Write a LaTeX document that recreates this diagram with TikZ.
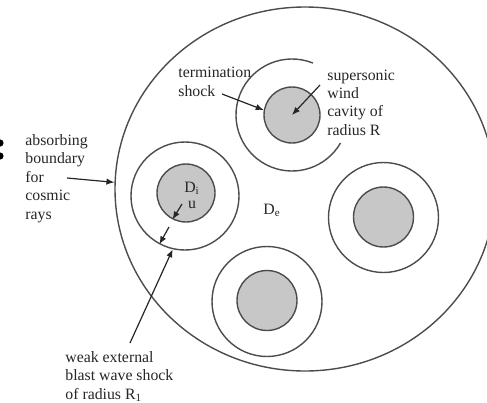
\documentclass[tikz,border=0pt]{standalone}
\usepackage{fontspec}
\setmainfont{Liberation Serif}
\usetikzlibrary{arrows.meta,shapes.geometric}

\begin{document}
\begin{tikzpicture}[x=0.5pt,y=0.5pt,
  cavity/.style={circle,draw=black!70,fill=black!22,line width=0.7pt,inner sep=0pt,minimum size=#1},
  blast/.style={circle,draw=black!70,line width=0.7pt,inner sep=0pt,minimum size=#1},
  lbl/.style={font=\fontsize{7.9}{9.2}\selectfont,text=black!85,inner sep=0pt,align=left,anchor=west},
  arr/.style={-{Latex[length=4pt,width=3.2pt]},draw=black!85,line width=0.6pt}]

\useasboundingbox (0,0) rectangle (487,-402);

% Left edge marks
\fill[black] (0,-143) circle[radius=1.8pt];
\fill[black] (0,-156) circle[radius=1.8pt];

% Absorbing boundary
\node[ellipse,draw=black!70,line width=0.7pt,inner sep=0pt,minimum width=190pt,minimum height=182pt] (bound) at (305,-189) {};

% Wind cavity with termination shock
\node[cavity=28pt] (cav1) at (292,-115) {};
\draw[black!70,line width=0.7pt] ([shift={(68:28pt)}]cav1.center) arc[start angle=68,end angle=330,radius=28pt];

% Cavity D_i with blast wave
\node[blast=54pt] (blast2) at (185,-196) {};
\node[cavity=29pt] (cav2) at (186,-193) {};

% Right cavity
\node[blast=55pt] (blast3) at (383.5,-217.5) {};
\node[cavity=30pt] (cav3) at (383.5,-217) {};

% Bottom cavity
\node[blast=55pt] (blast4) at (267,-301.5) {};
\node[cavity=30pt] (cav4) at (267,-300.5) {};

% Labels
\node[lbl] (absorb) at (25,-178.5) {absorbing\\boundary\\for\\cosmic\\rays};
\node[lbl] (weak) at (65,-376.5) {weak external\\blast wave shock\\of radius R\textsubscript{1}};
\node[lbl] (super) at (327,-102.5) {supersonic\\wind\\cavity of\\radius R};
\node[lbl] (term) at (178,-82) {termination\\shock};
\node[lbl,anchor=center] (di) at (192,-188) {D\textsubscript{i}};
\node[lbl,anchor=center] (uu) at (192,-205) {u};
\node[lbl,anchor=center] (de) at (272,-210) {D\textsubscript{e}};

% Arrows
\coordinate (absorbtail) at (67,-178);
\coordinate (termtail) at (222,-94);
\coordinate (supertail) at (320,-85);
\coordinate (utail) at (182,-204);
\coordinate (outtail) at (169,-227);
\coordinate (weaktail) at (130,-343);
\draw[arr] (absorbtail) -- (bound.178);
\draw[arr] (termtail) -- (cav1.170);
\draw[arr] (supertail) -- (cav1.center);
\draw[arr] (utail) -- (cav2.243);
\draw[arr] (outtail) -- (blast2.242);
\draw[arr] (weaktail) -- (blast2.257);

\end{tikzpicture}
\end{document}
